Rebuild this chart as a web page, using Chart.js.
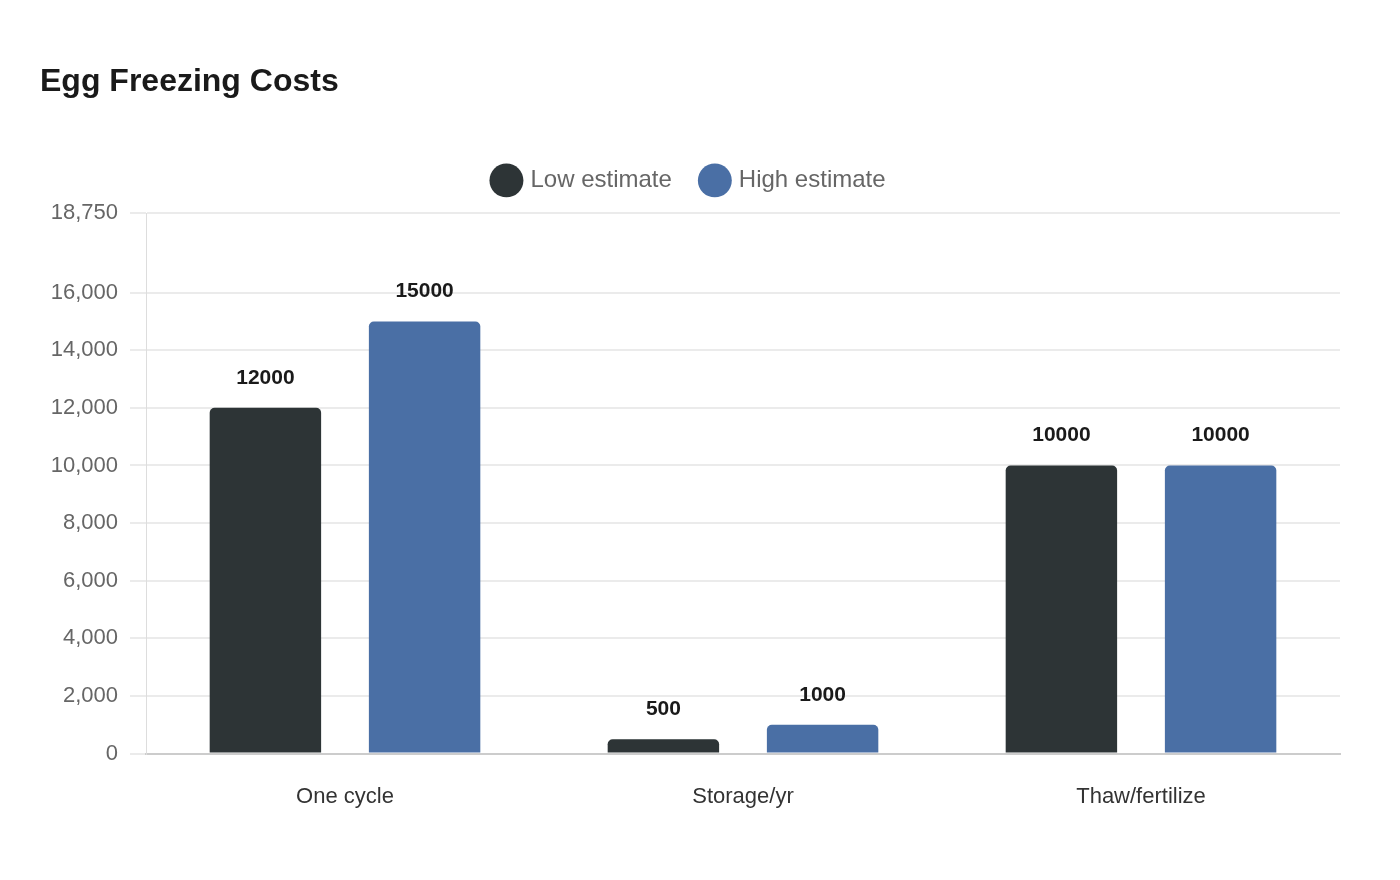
<!DOCTYPE html>
<html>
<head>
<meta charset="utf-8">
<script src="https://cdn.jsdelivr.net/npm/chart.js@4.4.1/dist/chart.umd.min.js"></script>
<style>
  html, body { margin: 0; padding: 0; background: #ffffff; }
  #wrap { width: 1400px; height: 880px; }
</style>
</head>
<body>
<div id="wrap"><canvas id="c" width="1400" height="880"></canvas></div>
<script>
const categories = ['One cycle', 'Storage/yr', 'Thaw/fertilize'];
const lowEstimate = [12000, 500, 10000];
const highEstimate = [15000, 1000, 10000];
const yTicks = [0, 2000, 4000, 6000, 8000, 10000, 12000, 14000, 16000, 18750];
const seriesNames = ['Low estimate', 'High estimate'];

const FONT = "Arial, 'Liberation Sans', sans-serif";
Chart.defaults.font.family = FONT;

const valueLabels = {
  id: 'valueLabels',
  afterDatasetsDraw(chart) {
    const ctx = chart.ctx;
    ctx.save();
    ctx.font = "bold 21px " + FONT;
    ctx.fillStyle = '#1a1a1a';
    ctx.textAlign = 'center';
    ctx.textBaseline = 'middle';
    chart.data.datasets.forEach((ds, i) => {
      const meta = chart.getDatasetMeta(i);
      meta.data.forEach((bar, j) => {
        ctx.fillText(String(ds.data[j]), bar.x, bar.y - 30);
      });
    });
    ctx.restore();
  }
};

const legendPad = {
  id: 'legendPad',
  beforeInit(chart) {
    const orig = chart.legend.fit;
    chart.legend.fit = function () {
      orig.call(this);
      this.height += 11;
    };
  }
};

new Chart(document.getElementById('c'), {
  type: 'bar',
  data: {
    labels: categories,
    datasets: [
      { label: seriesNames[0], data: lowEstimate, backgroundColor: '#2d3436', borderRadius: 5, borderSkipped: 'start' },
      { label: seriesNames[1], data: highEstimate, backgroundColor: '#4a6fa5', borderRadius: 5, borderSkipped: 'start' }
    ]
  },
  options: {
    responsive: false,
    animation: false,
    devicePixelRatio: 1,
    layout: { padding: { left: 40, right: 60, top: 63, bottom: 40 } },
    datasets: { bar: { categoryPercentage: 0.8, barPercentage: 0.7 } },
    plugins: {
      title: {
        display: true,
        text: 'Egg Freezing Costs',
        align: 'start',
        color: '#1a1a1a',
        font: { family: FONT, size: 32, weight: 'bold' },
        padding: { top: 0, bottom: 36 }
      },
      legend: {
        display: true,
        position: 'top',
        labels: {
          usePointStyle: true,
          pointStyle: 'circle',
          boxWidth: 33,
          boxHeight: 33,
          padding: 31,
          color: '#666666',
          font: { family: FONT, size: 24 }
        }
      },
      tooltip: { enabled: false }
    },
    scales: {
      x: {
        grid: { display: false, drawTicks: false },
        border: { display: true, color: '#cccccc', width: 2 },
        ticks: {
          color: '#333333',
          padding: 30,
          font: { family: FONT, size: 22 }
        }
      },
      y: {
        min: 0,
        max: 18750,
        afterBuildTicks(scale) { scale.ticks = yTicks.map(v => ({ value: v })); },
        afterFit(scale) { scale.width = 106; },
        grid: { color: '#ebebeb', lineWidth: 2, tickLength: 16 },
        border: { display: true, color: '#dddddd', width: 1 },
        ticks: {
          color: '#666666',
          padding: 12,
          font: { family: FONT, size: 22 },
          callback: v => v.toLocaleString('en-US')
        }
      }
    }
  },
  plugins: [valueLabels, legendPad]
});
</script>
</body>
</html>
